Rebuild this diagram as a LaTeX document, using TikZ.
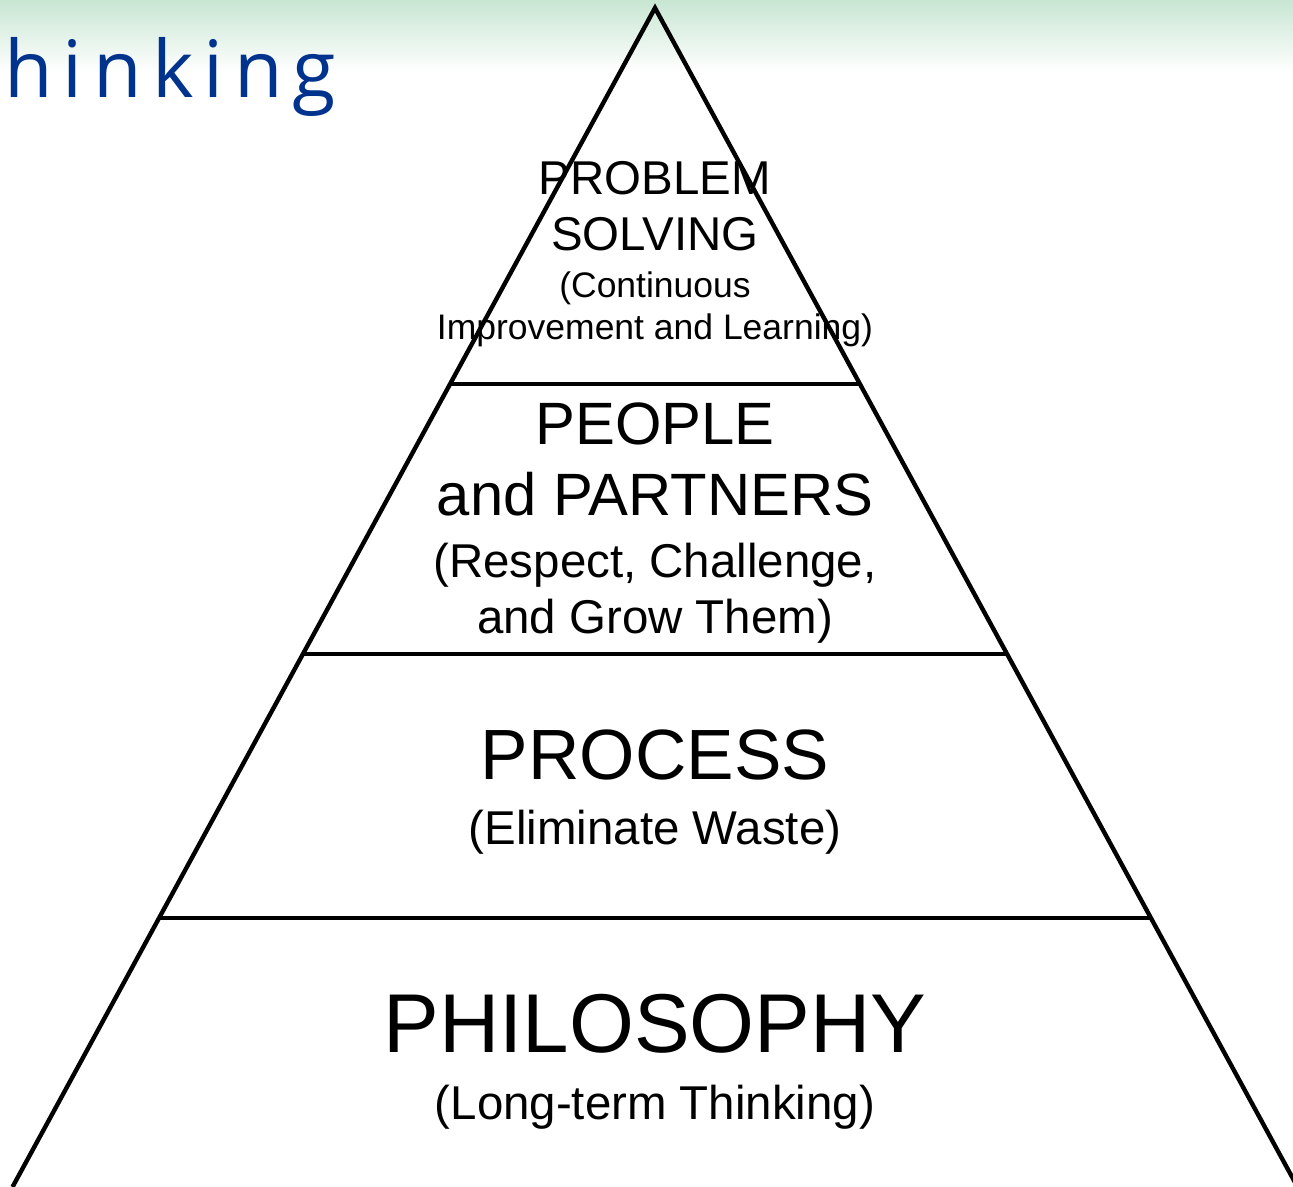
\documentclass[tikz,border=0pt]{standalone}
\usepackage{tikz}
\usepackage{fontspec}
\setmainfont{Liberation Sans}
\newfontfamily\headfont[LetterSpace=13]{Open Sans}
\usepackage{tkz-euclide}
\usepackage{xcolor}
\definecolor{headblue}{RGB}{0,51,141}
\definecolor{mint}{RGB}{200,230,210}

\begin{document}
\begin{tikzpicture}[line width=2.5pt,
    tier/.style={anchor=base,inner sep=0pt}]
    \useasboundingbox (0,0) rectangle (25.86,23.74);
    \shade[top color=mint,bottom color=white] (0,22.3) rectangle (25.86,23.74);
    \node[anchor=base west,inner sep=0pt,text=headblue,font=\headfont\fontsize{45}{54}\selectfont] (head) at (0.04,21.78) {hinking};
    \tkzDefPoint(13.1,23.58){T}
    \tkzDefPoint(0.25,0){L}
    \tkzDefPoint(25.95,0){R}
    \tkzDefPoint(9.00,16.06){A1}
    \tkzDefPoint(17.20,16.06){B1}
    \tkzDefPoint(6.06,10.66){A2}
    \tkzDefPoint(20.14,10.66){B2}
    \tkzDefPoint(3.18,5.38){A3}
    \tkzDefPoint(23.02,5.38){B3}
    \draw[line join=miter] (L) -- (T) -- (R);
    \draw (A1) -- (B1);
    \draw (A2) -- (B2);
    \draw (A3) -- (B3);
    % top tier
    \node[tier,font=\fontsize{27}{30}\selectfont] (prob) at (13.1,19.84) {PROBLEM};
    \node[tier,font=\fontsize{27}{30}\selectfont] (solv) at (13.1,18.72) {SOLVING};
    \node[tier,font=\fontsize{20.2}{24}\selectfont] (cont) at (13.1,17.78) {(Continuous};
    \node[tier,font=\fontsize{20.2}{24}\selectfont] (impr) at (13.1,16.94) {Improvement and Learning)};
    % people
    \node[tier,font=\fontsize{34}{38}\selectfont] (peop) at (13.1,14.84) {PEOPLE};
    \node[tier,font=\fontsize{34}{38}\selectfont] (part) at (13.1,13.42) {and PARTNERS};
    \node[tier,font=\fontsize{27}{30}\selectfont] (resp) at (13.1,12.18) {(Respect, Challenge,};
    \node[tier,font=\fontsize{27}{30}\selectfont] (grow) at (13.1,11.06) {and Grow Them)};
    % process
    \node[tier,font=\fontsize{40.5}{46}\selectfont] (proc) at (13.1,8.14) {PROCESS};
    \node[tier,font=\fontsize{27}{30}\selectfont] (elim) at (13.1,6.84) {(Eliminate Waste)};
    % philosophy
    \node[tier,font=\fontsize{47.5}{54}\selectfont] (phil) at (13.1,2.68) {PHILOSOPHY};
    \node[tier,font=\fontsize{27}{30}\selectfont] (long) at (13.1,1.34) {(Long-term Thinking)};
\end{tikzpicture}
\end{document}
